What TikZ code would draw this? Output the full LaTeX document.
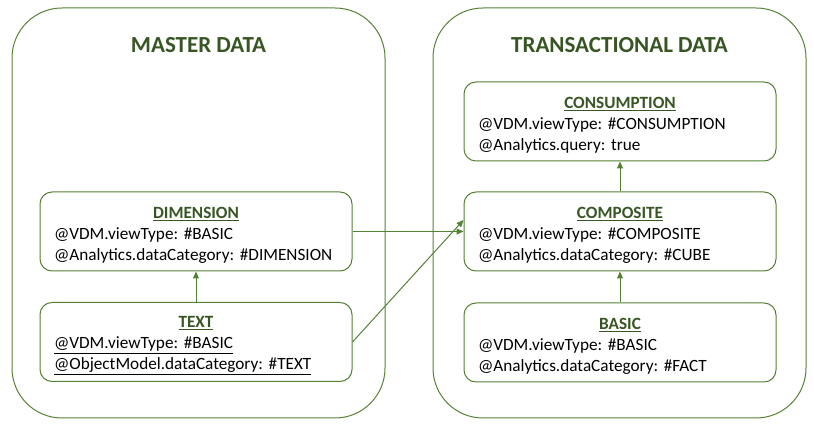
\documentclass[tikz,border=0pt]{standalone}
\usepackage{fontspec}
\setmainfont{Carlito}
\usetikzlibrary{arrows.meta}
\definecolor{frame}{HTML}{548235}
\definecolor{head}{HTML}{375623}
\newcommand{\viewhead}[1]{\noindent\rule{0pt}{18.5pt}\makebox[\hsize]{\textbf{\color{head}\underline{#1}}}\\}
\frenchspacing

\begin{document}
\begin{tikzpicture}[x=1pt,y=-1pt,
    area/.style={draw=frame,line width=1pt,rounded corners=50pt,
      minimum width=373pt,minimum height=410pt},
    areattl/.style={font=\fontsize{23}{26}\selectfont\bfseries,text=head},
    view/.style={draw=frame,line width=1pt,rounded corners=12pt,fill=white,
      minimum width=312pt,minimum height=79pt,text width=284pt,inner xsep=14pt,
      align=left,font=\fontsize{17.2}{21}\selectfont\frenchspacing},
    link/.style={draw=frame,line width=1pt,-{Triangle[length=7pt,width=6pt]}}]
    \useasboundingbox (0,0) rectangle (814,427);
    % the two areas
    \node[area] (master) at (198.5,213) {};
    \node[area] (trans) at (619.5,213) {};
    \node[areattl] (masterttl) at (198.5,45) {MASTER DATA};
    \node[areattl] (transttl) at (619.5,45) {TRANSACTIONAL DATA};
    % master data views
    \node[view] (dim) at (196,231.5) {\viewhead{DIMENSION}%
      @VDM.viewType: \#BASIC\\
      @Analytics.dataCategory: \#DIMENSION};
    \node[view] (txt) at (196,342) {\viewhead{TEXT}%
      \underline{@VDM.viewType: \#BASIC}\\
      \underline{@ObjectModel.dataCategory: \#TEXT}};
    % transactional data views
    \node[view] (cons) at (620,121.5) {\viewhead{CONSUMPTION}%
      @VDM.viewType: \#CONSUMPTION\\
      @Analytics.query: true};
    \node[view] (comp) at (620,231.5) {\viewhead{COMPOSITE}%
      @VDM.viewType: \#COMPOSITE\\
      @Analytics.dataCategory: \#CUBE};
    \node[view] (basic) at (620,342.5) {\viewhead{BASIC}%
      @VDM.viewType: \#BASIC\\
      @Analytics.dataCategory: \#FACT};
    % vertical links
    \draw[link] (txt) -- (dim);
    \draw[link] (basic) -- (comp);
    \draw[link] (comp) -- (cons);
    % links across
    \draw[link] (dim) -- (comp);
    \draw[link] (txt.east) -- ([yshift=11.5pt]comp.west);
\end{tikzpicture}
\end{document}
